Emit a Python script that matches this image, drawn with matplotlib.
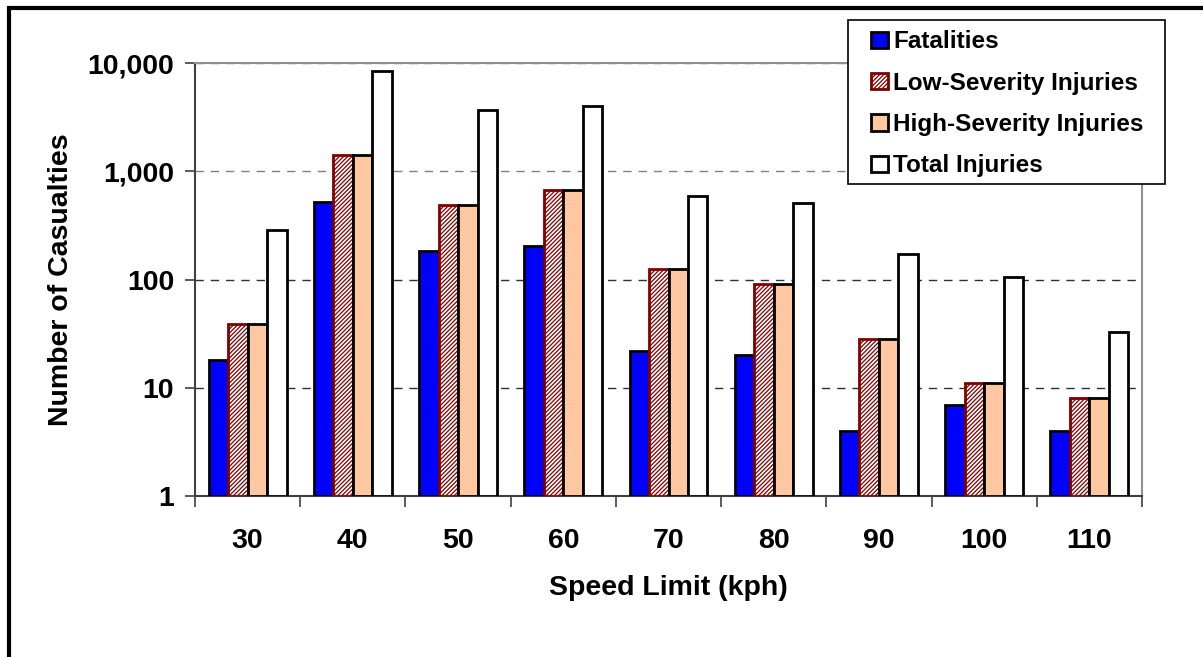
import matplotlib
matplotlib.use("Agg")
import matplotlib.pyplot as plt
import numpy as np
from matplotlib.patches import Rectangle
from matplotlib.ticker import FixedLocator, NullLocator

plt.rcParams['font.family'] = ['Liberation Sans', 'DejaVu Sans']
plt.rcParams['font.weight'] = 'bold'
plt.rcParams['hatch.linewidth'] = 0.9

speed_limits = ["30", "40", "50", "60", "70", "80", "90", "100", "110"]
fatalities = [18, 520, 183, 205, 22, 20, 4, 7, 4]
low_severity = [39, 1410, 488, 670, 125, 91, 28, 11, 8]
high_severity = [39, 1410, 488, 670, 125, 91, 28, 11, 8]
total_injuries = [287, 8440, 3680, 4010, 591, 509, 172, 105, 33]
series_names = ["Fatalities", "Low-Severity Injuries", "High-Severity Injuries", "Total Injuries"]
ytick_vals = [1, 10, 100, 1000, 10000]
ytick_labels = ["1", "10", "100", "1,000", "10,000"]

W, H = 1203, 657
fig = plt.figure(figsize=(W/100, H/100), dpi=100)
ax = fig.add_axes([195/W, 1-496/H, (1142-195)/W, (496-63)/H])

x = np.arange(len(speed_limits))
w = 0.185
styles = [
    dict(facecolor='#0000FF', edgecolor='black', linewidth=2.0),
    dict(facecolor='white', edgecolor='#800000', hatch='////////', linewidth=2.0),
    dict(facecolor='#FFC8A0', edgecolor='black', linewidth=2.0),
    dict(facecolor='white', edgecolor='black', linewidth=2.0),
]
data = [fatalities, low_severity, high_severity, total_injuries]
handles = []
for k, (vals, st) in enumerate(zip(data, styles)):
    heights = np.array(vals, dtype=float) - 1.0
    b = ax.bar(x + (k - 1.5) * w, heights, width=w, bottom=1, label=series_names[k], zorder=3, **st)
    handles.append(b)

ax.set_yscale('log')
ax.set_ylim(1, 10000)
ax.set_xlim(-0.5, len(speed_limits) - 0.5)
ax.yaxis.set_major_locator(FixedLocator(ytick_vals))
ax.yaxis.set_minor_locator(NullLocator())
ax.set_yticklabels(ytick_labels, fontsize=20.5, fontweight='bold')
ax.set_xticks(x)
ax.set_xticklabels(speed_limits, fontsize=20.5, fontweight='bold')
ax.tick_params(axis='x', which='major', length=0, pad=23)
ax.set_xticks(np.arange(-0.5, len(speed_limits)), minor=True)
ax.tick_params(axis='x', which='minor', length=8, width=1.2, color='#404040', direction='out')
ax.tick_params(axis='y', which='major', length=7, width=1.2, color='#404040', direction='out', pad=8)

for v in ytick_vals[1:]:
    ax.axhline(v, color='#303030' if v < 1000 else '#808080', linestyle=(0, (6, 5)), linewidth=1.0, zorder=1)

for s in ['top', 'right']:
    ax.spines[s].set_color('#909090')
    ax.spines[s].set_linewidth(1.5)
for s in ['left', 'bottom']:
    ax.spines[s].set_color('#404040')
    ax.spines[s].set_linewidth(1.5)

ax.set_xlabel("Speed Limit (kph)", fontsize=20.5, fontweight='bold', labelpad=15)
ax.set_ylabel("Number of Casualties", fontsize=20.5, fontweight='bold', labelpad=10)

# legend frame drawn explicitly
fig.patches.append(Rectangle((848/W, 1-184/H), (1165-848)/W, (184-20)/H, transform=fig.transFigure,
                             facecolor='white', edgecolor='black', linewidth=1.2, zorder=5))
leg = fig.legend(handles=handles, labels=series_names, loc='upper left',
                 bbox_to_anchor=(871/W, 1-30.5/H),
                 prop={'weight': 'bold', 'size': 17.5},
                 frameon=False,
                 handlelength=0.7, handleheight=0.65, handletextpad=0.2,
                 labelspacing=0.75, borderpad=0.0, borderaxespad=0)
leg.set_zorder(6)

fig.patches.append(Rectangle((9/W, -0.1), 1.2, 1 - 8/H + 0.1, transform=fig.transFigure,
                             fill=False, edgecolor='black', linewidth=3, zorder=0))

fig.savefig("out.png", dpi=100)
